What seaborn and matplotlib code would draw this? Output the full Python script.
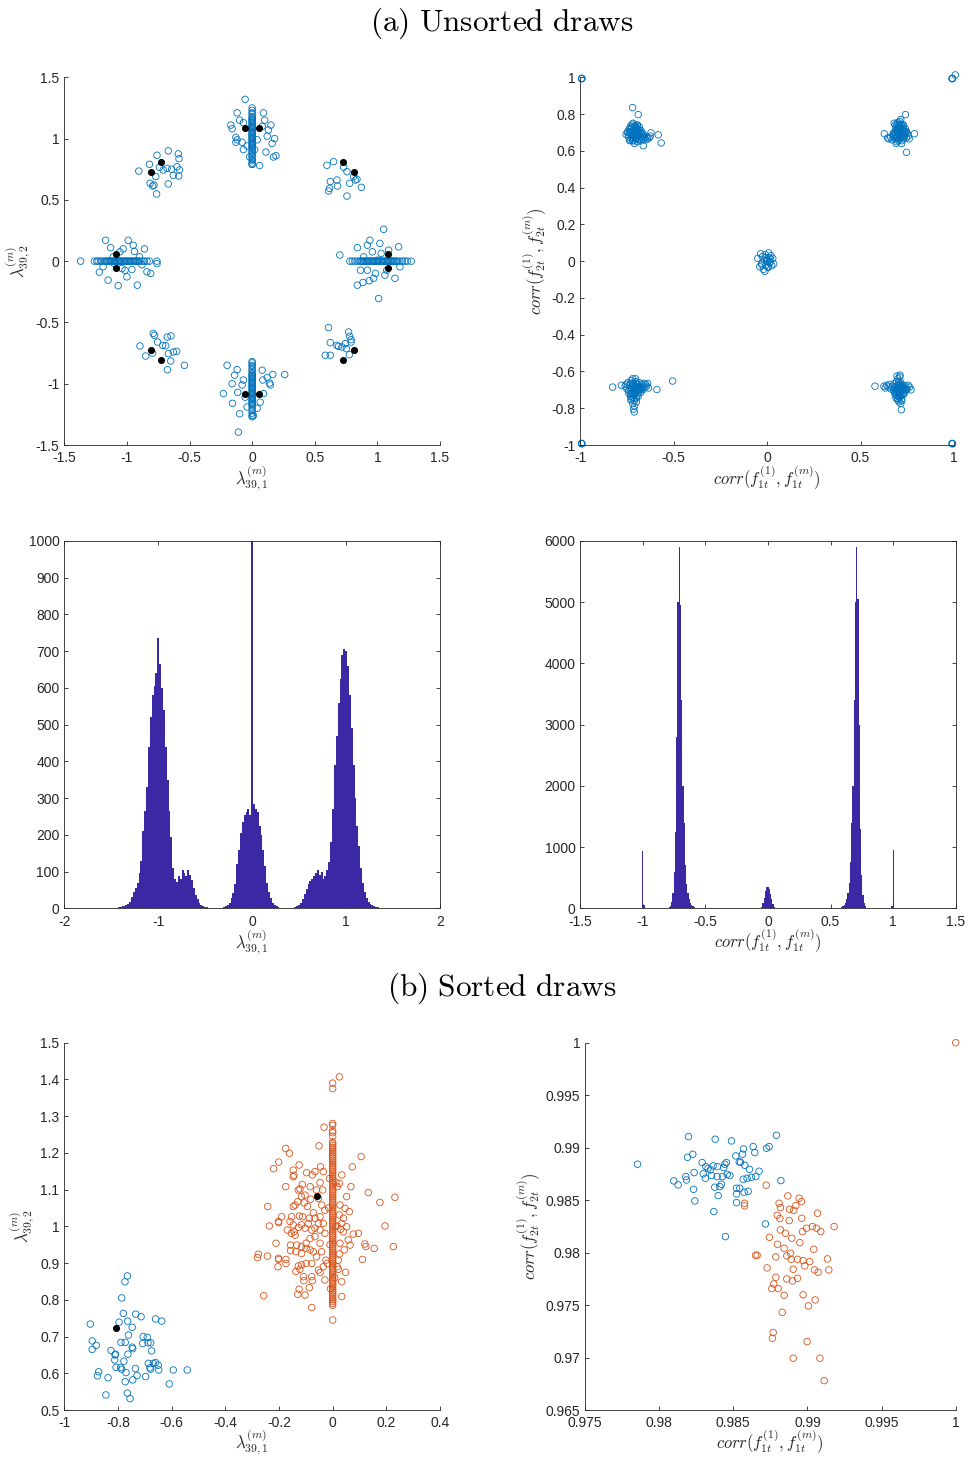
import numpy as np
import matplotlib
matplotlib.use("Agg")
import matplotlib.pyplot as plt
from matplotlib.ticker import FuncFormatter
import seaborn as sns

sns.set_theme(style="white")
plt.rcParams["font.family"] = ["Liberation Sans", "DejaVu Sans"]
plt.rcParams["mathtext.fontset"] = "cm"
plt.rcParams["axes.unicode_minus"] = False

BLUE = "#0072BD"
ORANGE = "#D95319"
HIST = "#3B28A4"
AXC = "#262626"

# ---------------- (a) top-left: unsorted lambda draws ----------------
top_pts = [(-0.056, 1.32), (-0.12, 1.21), (-0.17, 1.11), (-0.16, 1.08), (-0.07, 1.13),
           (-0.13, 1.01), (-0.13, 0.97), (-0.08, 0.97), (-0.04, 0.94), (-0.02, 0.85),
           (0.08, 1.10), (0.10, 1.15), (0.13, 1.07), (0.15, 1.11), (0.18, 1.00),
           (0.16, 0.96), (0.11, 0.89), (0.17, 0.85), (0.19, 0.86), (0.06, 0.78),
           (0.0, 0.79), (0.04, 0.99), (0.12, 1.02), (0.09, 1.21), (-0.10, 1.15),
           (-0.12, 0.99), (0.02, 0.91), (-0.07, 0.91)]
top_line_y = [0.79, 0.80, 0.82, 0.83, 0.85, 0.86, 0.88, 0.89, 0.90, 0.92, 0.93, 0.94, 0.95,
              0.96, 0.97, 0.98, 0.99, 1.00, 1.01, 1.02, 1.03, 1.04, 1.05, 1.06, 1.07, 1.08,
              1.09, 1.10, 1.11, 1.12, 1.13, 1.14, 1.15, 1.16, 1.17, 1.18, 1.20, 1.21, 1.23, 1.25]
bot_pts = [(-0.11, -1.395), (-0.20, -0.85), (-0.12, -0.885), (-0.14, -0.93), (-0.16, -1.0),
           (-0.23, -1.08), (-0.157, -1.16), (-0.115, -1.07), (-0.08, -1.01), (-0.07, -0.97),
           (0.08, -0.89), (0.12, -0.95), (0.165, -0.925), (0.26, -0.925), (0.14, -0.995),
           (0.145, -1.01), (0.09, -1.08), (0.064, -1.15), (0.04, -1.2), (-0.04, -1.19),
           (0.01, -1.26), (0.085, -0.97), (-0.056, -1.11), (-0.10, -1.245)]
bot_line_y = [-0.82, -0.83, -0.85, -0.86, -0.88, -0.89, -0.91, -0.92, -0.93, -0.94, -0.95,
              -0.96, -0.97, -0.98, -0.99, -1.00, -1.01, -1.02, -1.03, -1.04, -1.05, -1.06,
              -1.07, -1.08, -1.09, -1.10, -1.11, -1.12, -1.13, -1.14, -1.15, -1.16, -1.17,
              -1.18, -1.20, -1.22, -1.24, -1.26, -1.27]
left_pts = [(-1.17, 0.17), (-1.13, 0.11), (-1.22, -0.09), (-1.15, -0.155), (-1.07, -0.2),
            (-0.917, -0.196), (-0.99, 0.17), (-0.94, 0.08), (-0.86, 0.10), (-0.76, -0.02),
            (-0.81, -0.1), (-0.84, -0.087), (-1.0, -0.128), (-0.96, -0.068), (-1.04, -0.06),
            (-1.056, 0.076), (-1.03, 0.1), (-1.1, -0.02), (-0.95, 0.13), (-0.9, 0.035),
            (-1.015, -0.075), (-1.11, 0.035), (-1.19, -0.045), (-0.88, -0.03)]
left_line_x = [-1.37, -1.26, -1.24, -1.23, -1.21, -1.20, -1.18, -1.17, -1.16, -1.15, -1.14,
               -1.13, -1.12, -1.11, -1.10, -1.09, -1.08, -1.07, -1.06, -1.05, -1.04, -1.03,
               -1.02, -1.01, -1.00, -0.99, -0.98, -0.97, -0.96, -0.95, -0.94, -0.93, -0.92,
               -0.91, -0.90, -0.88, -0.86, -0.84, -0.82, -0.76]
right_pts = [(1.05, 0.26), (0.70, 0.05), (0.84, 0.11), (0.94, 0.17), (1.02, 0.145),
             (1.09, 0.09), (1.17, 0.117), (0.84, -0.196), (0.885, -0.174), (0.935, -0.16),
             (1.01, -0.305), (1.14, -0.14), (1.06, -0.114), (0.985, -0.1), (0.92, -0.074),
             (0.96, 0.076), (0.89, 0.035), (1.0, 0.008), (1.075, -0.074), (0.865, -0.074),
             (0.97, -0.14), (1.03, 0.063), (0.92, 0.13), (1.18, -0.046)]
right_line_x = [0.78, 0.80, 0.82, 0.84, 0.86, 0.87, 0.88, 0.89, 0.90, 0.91, 0.92, 0.93, 0.94,
                0.95, 0.96, 0.97, 0.98, 0.99, 1.00, 1.01, 1.02, 1.03, 1.04, 1.05, 1.06, 1.07,
                1.08, 1.09, 1.10, 1.11, 1.12, 1.13, 1.14, 1.15, 1.16, 1.18, 1.20, 1.22, 1.24, 1.27]
ul_pts = [(-0.905, 0.735), (-0.82, 0.79), (-0.76, 0.864), (-0.67, 0.90), (-0.59, 0.875),
          (-0.584, 0.836), (-0.60, 0.77), (-0.58, 0.744), (-0.586, 0.695), (-0.63, 0.70),
          (-0.67, 0.63), (-0.68, 0.757), (-0.74, 0.766), (-0.77, 0.69), (-0.815, 0.635),
          (-0.795, 0.613), (-0.784, 0.62), (-0.763, 0.548), (-0.643, 0.75), (-0.71, 0.744)]
ur_pts = [(0.597, 0.782), (0.65, 0.812), (0.73, 0.766), (0.757, 0.73), (0.624, 0.65),
          (0.618, 0.594), (0.61, 0.572), (0.677, 0.662), (0.682, 0.613), (0.757, 0.531),
          (0.779, 0.635), (0.824, 0.662), (0.837, 0.668), (0.872, 0.602), (0.81, 0.69)]
ll_pts = [(-0.896, -0.692), (-0.85, -0.774), (-0.79, -0.59), (-0.78, -0.605), (-0.755, -0.66),
          (-0.714, -0.687), (-0.69, -0.69), (-0.677, -0.619), (-0.648, -0.61), (-0.669, -0.755),
          (-0.629, -0.741), (-0.603, -0.736), (-0.541, -0.85), (-0.65, -0.815), (-0.677, -0.886),
          (-0.795, -0.75)]
lr_pts = [(0.61, -0.542), (0.624, -0.665), (0.677, -0.687), (0.69, -0.695), (0.77, -0.578),
          (0.778, -0.613), (0.79, -0.64), (0.79, -0.66), (0.744, -0.673), (0.752, -0.714),
          (0.776, -0.763), (0.584, -0.768), (0.624, -0.768), (0.717, -0.70)]
mode_pts = [(-0.058, 1.085), (0.058, 1.085), (-0.058, -1.085), (0.058, -1.085),
            (-1.085, 0.058), (-1.085, -0.058), (1.085, 0.058), (1.085, -0.058),
            (-0.81, 0.725), (-0.725, 0.81), (0.725, 0.81), (0.81, 0.725),
            (-0.81, -0.725), (-0.725, -0.81), (0.725, -0.81), (0.81, -0.725)]

# ---------------- (a) top-right: unsorted correlations ----------------
cul_x = [-0.755, -0.748, -0.742, -0.738, -0.733, -0.73, -0.726, -0.722, -0.72, -0.717,
         -0.714, -0.712, -0.71, -0.708, -0.705, -0.703, -0.70, -0.698, -0.695, -0.692,
         -0.69, -0.687, -0.684, -0.68, -0.676, -0.672, -0.668, -0.664, -0.66, -0.655,
         -0.65, -0.645, -0.64, -0.632, -0.625, -0.718, -0.706, -0.694, -0.728, -0.70,
         -0.72, -0.69, -0.583, -0.567, -0.663, -0.622,
         -0.735, -0.725, -0.715, -0.705, -0.695, -0.685, -0.675, -0.665, -0.74, -0.73,
         -0.72, -0.71, -0.70, -0.69, -0.68, -0.67, -0.725, -0.715, -0.705, -0.695,
         -0.685, -0.745, -0.735, -0.70, -0.71]
cul_y = [0.69, 0.70, 0.675, 0.72, 0.66, 0.735, 0.69, 0.745, 0.655, 0.71,
         0.68, 0.725, 0.64, 0.70, 0.735, 0.665, 0.69, 0.715, 0.65, 0.68,
         0.705, 0.66, 0.73, 0.675, 0.695, 0.655, 0.685, 0.665, 0.68, 0.67,
         0.66, 0.675, 0.665, 0.67, 0.68, 0.75, 0.72, 0.74, 0.70, 0.67,
         0.835, 0.797, 0.687, 0.643, 0.628, 0.698,
         0.70, 0.675, 0.70, 0.68, 0.725, 0.69, 0.71, 0.695, 0.685, 0.715,
         0.67, 0.695, 0.72, 0.665, 0.70, 0.675, 0.73, 0.655, 0.665, 0.74,
         0.715, 0.705, 0.655, 0.685, 0.735]
cur_x = [0.645, 0.652, 0.66, 0.668, 0.675, 0.68, 0.685, 0.688, 0.69, 0.693,
         0.695, 0.697, 0.70, 0.702, 0.704, 0.706, 0.708, 0.71, 0.712, 0.715,
         0.717, 0.72, 0.722, 0.725, 0.728, 0.73, 0.733, 0.736, 0.74, 0.745,
         0.75, 0.755, 0.76, 0.70, 0.71, 0.69, 0.72, 0.705, 0.627, 0.74,
         0.746, 0.788, 0.715, 0.68,
         0.685, 0.695, 0.705, 0.715, 0.725, 0.735, 0.68, 0.69, 0.70, 0.71,
         0.72, 0.73, 0.74, 0.695, 0.705, 0.715, 0.725, 0.685, 0.70, 0.71,
         0.72, 0.69, 0.73, 0.675, 0.745]
cur_y = [0.67, 0.665, 0.675, 0.66, 0.68, 0.70, 0.665, 0.72, 0.69, 0.65,
         0.735, 0.675, 0.70, 0.655, 0.715, 0.685, 0.745, 0.665, 0.70, 0.725,
         0.68, 0.71, 0.655, 0.74, 0.69, 0.665, 0.705, 0.68, 0.72, 0.67,
         0.695, 0.68, 0.665, 0.755, 0.76, 0.64, 0.64, 0.73, 0.693, 0.797,
         0.592, 0.693, 0.77, 0.75,
         0.70, 0.68, 0.725, 0.69, 0.705, 0.695, 0.685, 0.71, 0.675, 0.73,
         0.695, 0.72, 0.70, 0.745, 0.66, 0.745, 0.675, 0.74, 0.715, 0.685,
         0.735, 0.675, 0.74, 0.695, 0.705]
cll_x = [-0.76, -0.755, -0.75, -0.745, -0.74, -0.735, -0.73, -0.727, -0.724, -0.72,
         -0.717, -0.714, -0.711, -0.708, -0.705, -0.702, -0.70, -0.697, -0.694, -0.69,
         -0.686, -0.682, -0.678, -0.674, -0.67, -0.665, -0.66, -0.655, -0.65, -0.645,
         -0.64, -0.635, -0.72, -0.71, -0.73, -0.715, -0.70, -0.725, -0.712, -0.705,
         -0.827, -0.78, -0.506, -0.711, -0.59, -0.72,
         -0.735, -0.725, -0.715, -0.705, -0.695, -0.685, -0.675, -0.665, -0.73, -0.72,
         -0.71, -0.70, -0.69, -0.68, -0.725, -0.715, -0.705, -0.695, -0.72, -0.71,
         -0.70, -0.74, -0.69, -0.68, -0.73]
cll_y = [-0.68, -0.67, -0.695, -0.66, -0.705, -0.675, -0.72, -0.65, -0.69, -0.74,
         -0.665, -0.705, -0.76, -0.68, -0.715, -0.655, -0.695, -0.73, -0.67, -0.70,
         -0.66, -0.685, -0.715, -0.67, -0.695, -0.68, -0.665, -0.685, -0.67, -0.68,
         -0.665, -0.69, -0.775, -0.79, -0.755, -0.805, -0.765, -0.72, -0.745, -0.64,
         -0.685, -0.675, -0.652, -0.82, -0.698, -0.64,
         -0.69, -0.70, -0.675, -0.72, -0.685, -0.70, -0.69, -0.70, -0.735, -0.715,
         -0.695, -0.745, -0.715, -0.685, -0.75, -0.73, -0.685, -0.705, -0.665, -0.72,
         -0.67, -0.72, -0.735, -0.70, -0.665]
clr_x = [0.625, 0.632, 0.64, 0.648, 0.655, 0.662, 0.67, 0.676, 0.68, 0.685,
         0.688, 0.69, 0.693, 0.696, 0.698, 0.70, 0.702, 0.704, 0.706, 0.708,
         0.71, 0.712, 0.715, 0.718, 0.72, 0.723, 0.726, 0.73, 0.734, 0.738,
         0.742, 0.748, 0.755, 0.762, 0.70, 0.71, 0.705, 0.715, 0.695, 0.72,
         0.577, 0.718, 0.711, 0.77,
         0.68, 0.69, 0.70, 0.71, 0.72, 0.73, 0.685, 0.695, 0.705, 0.715,
         0.725, 0.735, 0.69, 0.70, 0.71, 0.72, 0.70, 0.71, 0.695, 0.705,
         0.715, 0.725, 0.68, 0.73, 0.745]
clr_y = [-0.68, -0.69, -0.675, -0.685, -0.67, -0.695, -0.68, -0.70, -0.665, -0.715,
         -0.685, -0.73, -0.655, -0.70, -0.745, -0.675, -0.715, -0.66, -0.69, -0.735,
         -0.705, -0.67, -0.72, -0.685, -0.75, -0.70, -0.675, -0.715, -0.69, -0.70,
         -0.68, -0.695, -0.675, -0.685, -0.64, -0.63, -0.765, -0.775, -0.625, -0.76,
         -0.68, -0.808, -0.62, -0.70,
         -0.69, -0.70, -0.685, -0.695, -0.705, -0.69, -0.725, -0.715, -0.73, -0.68,
         -0.69, -0.715, -0.745, -0.755, -0.74, -0.73, -0.705, -0.72, -0.685, -0.70,
         -0.66, -0.675, -0.71, -0.725, -0.70]
cmid_x = [-0.05, -0.04, -0.035, -0.03, -0.025, -0.02, -0.015, -0.01, -0.005, 0.0,
          0.005, 0.01, 0.015, 0.02, 0.025, 0.03, 0.035, -0.012, 0.008, -0.002,
          0.018, -0.028, 0.012, -0.006, 0.003]
cmid_y = [0.015, -0.03, 0.04, -0.01, 0.025, -0.045, 0.005, 0.035, -0.02, 0.01,
          -0.035, 0.02, -0.005, 0.03, -0.025, 0.015, -0.015, -0.055, 0.045, 0.0,
          0.01, -0.02, -0.01, 0.02, -0.03]
corner_x = [-0.993, -0.993, -0.991, -0.993, -0.993, -0.991, 0.99, 0.99, 0.992, 1.007, 0.99, 0.99, 0.992]
corner_y = [0.994, 0.992, 0.994, -0.993, -0.991, -0.993, 0.994, 0.992, 0.994, 1.013, -0.993, -0.991, -0.993]

# ---------------- (a) histograms ----------------
# lambda_39,1 counts, bins of 0.02 centred on -1.50 ... 1.50
lam_counts = [1, 1, 2, 2, 3, 4, 5, 7, 9, 12,
              18, 30, 45, 55, 70, 95, 130, 210, 265, 330,
              440, 520, 580, 605, 640, 735, 665, 600, 540, 440,
              350, 265, 195, 110, 80, 72, 88, 80, 105, 95,
              88, 105, 90, 78, 55, 35, 25, 15, 10, 6,
              4, 3, 2, 2, 1, 1, 1, 1, 2, 2,
              3, 5, 10, 15, 28, 42, 65, 120, 160, 205,
              235, 255, 262, 270, 255, 2600, 285, 270, 262, 225,
              200, 160, 115, 70, 45, 28, 15, 8, 5, 3,
              2, 1, 1, 1, 1, 1, 2, 2, 3, 5,
              9, 14, 25, 38, 52, 65, 75, 80, 88, 95,
              105, 92, 100, 80, 88, 105, 125, 180, 270, 390,
              470, 560, 625, 690, 705, 700, 660, 580, 490, 390,
              300, 225, 170, 110, 70, 45, 28, 18, 12, 8,
              6, 4, 3, 2, 2, 2, 1, 1, 1, 1,
              1]
# correlation counts, bins of 0.01; each segment with its first bin centre
corr_segments = [
    (-1.00, [940, 50]),
    (-0.80, [8, 15, 40, 100, 250, 600, 1250, 2800, 5000, 5900, 4950, 3400,
             2000, 1400, 700, 400, 250, 150, 90, 50, 30, 15, 8, 4]),
    (-0.06, [8, 25, 80, 170, 290, 340, 355, 320, 240, 150, 70, 25, 8]),
    (0.57, [4, 8, 15, 30, 50, 90, 150, 250, 420, 750, 1400, 2000,
            3400, 5000, 5900, 5050, 3000, 1300, 550, 220, 90, 35, 12, 5]),
    (0.99, [40, 950]),
]

# ---------------- (b) sorted draws ----------------
sorted_blue = [(-0.903, 0.734), (-0.896, 0.688), (-0.896, 0.665), (-0.881, 0.676), (-0.872, 0.604),
               (-0.876, 0.593), (-0.845, 0.541), (-0.837, 0.588), (-0.826, 0.662), (-0.811, 0.650),
               (-0.809, 0.652), (-0.812, 0.636), (-0.807, 0.616), (-0.796, 0.739), (-0.789, 0.684),
               (-0.786, 0.805), (-0.790, 0.616), (-0.786, 0.611), (-0.780, 0.763), (-0.778, 0.633),
               (-0.773, 0.684), (-0.773, 0.577), (-0.770, 0.602), (-0.774, 0.849), (-0.765, 0.865),
               (-0.764, 0.742), (-0.761, 0.704), (-0.763, 0.652), (-0.765, 0.546), (-0.755, 0.531),
               (-0.747, 0.725), (-0.747, 0.671), (-0.745, 0.667), (-0.745, 0.582), (-0.735, 0.613),
               (-0.734, 0.761), (-0.729, 0.594), (-0.714, 0.754), (-0.706, 0.700), (-0.708, 0.681),
               (-0.697, 0.591), (-0.691, 0.698), (-0.688, 0.683), (-0.687, 0.627), (-0.678, 0.683),
               (-0.678, 0.611), (-0.675, 0.661), (-0.681, 0.615), (-0.668, 0.627), (-0.660, 0.748),
               (-0.660, 0.629), (-0.650, 0.622), (-0.648, 0.609), (-0.637, 0.742), (-0.609, 0.571),
               (-0.594, 0.609), (-0.542, 0.609)]
sorted_orange = [(-0.22, 1.157), (-0.201, 1.175), (-0.175, 1.212), (-0.161, 1.199), (-0.242, 1.054),
                 (-0.236, 1.001), (-0.202, 1.013), (-0.201, 1.010), (-0.19, 1.026), (-0.211, 0.954),
                 (-0.277, 0.924), (-0.280, 0.915), (-0.243, 0.919), (-0.202, 0.913), (-0.201, 0.910),
                 (-0.204, 0.890), (-0.174, 0.910), (-0.174, 0.899), (-0.257, 0.811), (-0.175, 1.108),
                 (-0.147, 1.153), (-0.144, 1.139), (-0.147, 1.135), (-0.125, 1.167), (-0.097, 1.146),
                 (-0.076, 1.140), (-0.066, 1.149), (-0.051, 1.219), (-0.045, 1.162), (-0.032, 1.270),
                 (-0.035, 1.149), (-0.113, 1.114), (-0.128, 1.099), (-0.122, 1.102), (-0.116, 1.081),
                 (-0.130, 1.067), (-0.140, 1.058), (-0.147, 1.054), (-0.103, 1.085), (-0.106, 1.064),
                 (-0.094, 1.054), (-0.084, 1.108), (-0.082, 1.074), (-0.072, 1.037), (-0.060, 1.099),
                 (-0.047, 1.119), (-0.053, 1.076), (-0.037, 1.099), (-0.041, 1.058), (-0.029, 1.044),
                 (-0.047, 1.026), (-0.066, 1.022), (-0.087, 1.022), (-0.112, 1.026), (-0.124, 1.028),
                 (-0.153, 1.026), (-0.159, 1.013), (-0.147, 1.004), (-0.169, 0.990), (-0.154, 0.981),
                 (-0.143, 0.985), (-0.140, 0.976), (-0.128, 0.997), (-0.116, 1.004), (-0.103, 0.995),
                 (-0.091, 1.008), (-0.078, 0.990), (-0.066, 0.995), (-0.053, 1.008), (-0.047, 0.990),
                 (-0.035, 1.008), (-0.029, 0.981), (-0.066, 0.972), (-0.084, 0.967), (-0.099, 0.954),
                 (-0.116, 0.945), (-0.134, 0.949), (-0.157, 0.949), (-0.157, 0.934), (-0.137, 0.931),
                 (-0.116, 0.926), (-0.099, 0.940), (-0.084, 0.936), (-0.072, 0.931), (-0.060, 0.917),
                 (-0.047, 0.954), (-0.041, 0.931), (-0.025, 0.908), (-0.035, 0.890), (-0.053, 0.881),
                 (-0.047, 0.874), (-0.078, 0.899), (-0.099, 0.899), (-0.116, 0.895), (-0.128, 0.892),
                 (-0.122, 0.883), (-0.137, 0.877), (-0.109, 0.863), (-0.078, 0.863), (-0.076, 0.852),
                 (-0.107, 0.852), (-0.125, 0.829), (-0.130, 0.815), (-0.103, 0.813), (-0.087, 0.833),
                 (-0.078, 0.779), (-0.029, 0.854), (-0.020, 0.899), (0.017, 1.108), (0.025, 1.117),
                 (0.034, 1.140), (0.073, 1.162), (0.106, 1.190), (0.068, 1.108), (0.133, 1.092),
                 (0.176, 1.065), (0.232, 1.079), (0.052, 1.081), (0.027, 1.058), (0.046, 1.049),
                 (0.062, 1.040), (0.025, 1.031), (0.040, 1.022), (0.034, 1.008), (0.017, 1.001),
                 (0.030, 0.992), (0.052, 0.999), (0.040, 0.985), (0.077, 0.979), (0.096, 0.981),
                 (0.058, 0.963), (0.065, 0.949), (0.027, 0.954), (0.043, 0.936), (0.025, 0.925),
                 (0.120, 0.952), (0.124, 0.945), (0.155, 0.940), (0.195, 1.001), (0.226, 0.945),
                 (0.111, 0.910), (0.021, 0.908), (0.021, 0.883), (0.048, 0.875), (0.034, 0.849),
                 (0.034, 0.809), (0.017, 0.890), (-0.015, 1.05), (-0.010, 0.95), (0.010, 1.00),
                 (0.012, 1.12), (-0.012, 1.13), (0.008, 0.86), (-0.008, 0.83), (0.025, 1.407)]
sorted_line_y = [0.745, 0.785, 0.79, 0.80, 0.81, 0.82, 0.83, 0.84, 0.85, 0.86, 0.87, 0.88,
                 0.89, 0.90, 0.91, 0.92, 0.93, 0.94, 0.95, 0.96, 0.97, 0.98, 0.99, 1.00,
                 1.01, 1.02, 1.03, 1.04, 1.05, 1.06, 1.07, 1.08, 1.09, 1.10, 1.11, 1.12,
                 1.13, 1.14, 1.15, 1.16, 1.17, 1.18, 1.19, 1.20, 1.21, 1.22, 1.23, 1.245,
                 1.255, 1.26, 1.275, 1.28, 1.375, 1.39,
                 0.795, 0.805, 0.815, 0.825, 0.835, 0.845, 0.855, 0.865, 0.875, 0.885,
                 0.895, 0.905, 0.915, 0.925, 0.935, 0.945, 0.955, 0.965, 0.975, 0.985,
                 0.995, 1.005, 1.015, 1.025, 1.035, 1.045, 1.055, 1.065, 1.075, 1.085,
                 1.095, 1.105, 1.115, 1.125, 1.135, 1.145, 1.155, 1.165, 1.175, 1.185,
                 1.195, 1.205, 1.215, 1.225]
sorted_modes = [(-0.809, 0.724), (-0.060, 1.083)]

corr_blue = [(0.97854, 0.98842), (0.98099, 0.98683), (0.98128, 0.98645), (0.98180, 0.98724),
             (0.98184, 0.98692), (0.98191, 0.98908), (0.98198, 0.99105), (0.98227, 0.98937),
             (0.98236, 0.98762), (0.98232, 0.98603), (0.98241, 0.98492), (0.98290, 0.98858),
             (0.98297, 0.98750), (0.98315, 0.98819), (0.98312, 0.98708), (0.98330, 0.98804),
             (0.98346, 0.98788), (0.98353, 0.98734), (0.98364, 0.98826), (0.98369, 0.98391),
             (0.98378, 0.99080), (0.98375, 0.98623), (0.98393, 0.98819), (0.98391, 0.98724),
             (0.98398, 0.98543), (0.98409, 0.98629), (0.98420, 0.98651), (0.98427, 0.98724),
             (0.98436, 0.98810), (0.98443, 0.98842), (0.98447, 0.98152), (0.98454, 0.98858),
             (0.98459, 0.98746), (0.98477, 0.98734), (0.98488, 0.99064), (0.98517, 0.98921),
             (0.98522, 0.98613), (0.98522, 0.98559), (0.98522, 0.98476), (0.98540, 0.98864),
             (0.98544, 0.98613), (0.98549, 0.98861), (0.98562, 0.98937), (0.98569, 0.98988),
             (0.98567, 0.98699), (0.98573, 0.98575), (0.98578, 0.98832), (0.98593, 0.98708),
             (0.98600, 0.98584), (0.98609, 0.98794), (0.98623, 0.98718), (0.98634, 0.99010),
             (0.98645, 0.98953), (0.98652, 0.98724), (0.98674, 0.98775), (0.98724, 0.98994),
             (0.98742, 0.99010), (0.98717, 0.98273), (0.98791, 0.99118), (0.98821, 0.98686)]
corr_orange = [(0.98576, 0.98470), (0.98576, 0.98445), (0.98722, 0.98642), (0.98744, 0.98146),
               (0.98728, 0.97854), (0.98650, 0.97975), (0.98661, 0.97975), (0.98760, 0.97657),
               (0.98773, 0.97701), (0.98769, 0.97238), (0.98764, 0.97184), (0.98787, 0.97765),
               (0.98787, 0.97959), (0.98796, 0.98356), (0.98803, 0.97657), (0.98809, 0.98470),
               (0.98814, 0.98324), (0.98818, 0.98429), (0.98818, 0.98216), (0.98798, 0.98079),
               (0.98830, 0.97431), (0.98843, 0.98041), (0.98843, 0.97593), (0.98852, 0.98184),
               (0.98861, 0.97968), (0.98861, 0.97749), (0.98868, 0.98540), (0.98877, 0.98305),
               (0.98879, 0.98413), (0.98886, 0.97994), (0.98890, 0.97936), (0.98895, 0.98137),
               (0.98899, 0.97730), (0.98904, 0.97841), (0.98904, 0.96993), (0.98908, 0.98403),
               (0.98922, 0.98448), (0.98933, 0.97936), (0.98933, 0.97755), (0.98944, 0.98518),
               (0.98949, 0.98095), (0.98960, 0.98486), (0.98962, 0.98327), (0.98967, 0.98200),
               (0.98971, 0.97924), (0.98971, 0.97597), (0.98982, 0.97873), (0.98994, 0.98232),
               (0.98998, 0.97152), (0.99007, 0.97492), (0.99016, 0.97914), (0.99034, 0.98248),
               (0.99043, 0.98032), (0.99048, 0.97835), (0.99052, 0.97549), (0.99061, 0.98232),
               (0.99068, 0.98375), (0.99072, 0.97813), (0.99084, 0.96993), (0.99090, 0.98200),
               (0.99113, 0.96780), (0.99135, 0.97940), (0.99144, 0.97835), (0.99180, 0.98248),
               (1.0, 1.0)]

LAM1 = r"$\lambda^{(m)}_{39,1}$"
LAM2 = r"$\lambda^{(m)}_{39,2}$"
CORR1 = r"$corr(f^{(1)}_{1t},f^{(m)}_{1t})$"
CORR2 = r"$corr(f^{(1)}_{2t},f^{(m)}_{2t})$"

fmt = FuncFormatter(lambda v, p: "%g" % (round(v, 6) + 0.0))


def style_axes(ax, box=False):
    ax.set_facecolor("white")
    for side in ["top", "right"]:
        ax.spines[side].set_visible(box)
    for sp in ax.spines.values():
        sp.set_color(AXC)
        sp.set_linewidth(0.6)
    ax.tick_params(direction="in", length=3, width=0.6, color=AXC, labelcolor=AXC,
                   labelsize=10, top=box, right=box, bottom=True, left=True,
                   labeltop=False, labelright=False)
    ax.tick_params(axis="x", pad=4.5)
    ax.tick_params(axis="y", pad=3.5)
    ax.xaxis.set_major_formatter(fmt)
    ax.yaxis.set_major_formatter(fmt)
    ax.grid(False)


def rings(ax, pts=None, x=None, y=None, color=BLUE):
    if pts is not None:
        x = [p[0] for p in pts]
        y = [p[1] for p in pts]
    sns.scatterplot(x=x, y=y, ax=ax, marker="o", s=22, facecolor="none",
                    edgecolor=color, linewidth=0.6, legend=False, clip_on=False)


def dots(ax, pts):
    sns.scatterplot(x=[p[0] for p in pts], y=[p[1] for p in pts], ax=ax, marker="o",
                    s=26, color="black", edgecolor="black", linewidth=0, legend=False,
                    zorder=5, clip_on=False)


fig = plt.figure(figsize=(9.68, 14.57), dpi=100)
W, H = 968.0, 1457.0


def add_ax(x0, x1, y0, y1):
    return fig.add_axes([x0 / W, 1 - y1 / H, (x1 - x0) / W, (y1 - y0) / H])


# (a) top-left
ax = add_ax(64.3, 440, 77.3, 445)
style_axes(ax)
for pts in [top_pts, bot_pts, left_pts, right_pts, ul_pts, ur_pts, ll_pts, lr_pts]:
    rings(ax, pts)
rings(ax, x=[0.0] * len(top_line_y), y=top_line_y)
rings(ax, x=[0.0] * len(bot_line_y), y=bot_line_y)
rings(ax, x=left_line_x, y=[0.0] * len(left_line_x))
rings(ax, x=right_line_x, y=[0.0] * len(right_line_x))
dots(ax, mode_pts)
ax.set_xlim(-1.5, 1.5)
ax.set_ylim(-1.5, 1.5)
ax.set_xticks(np.arange(-1.5, 1.51, 0.5))
ax.set_yticks(np.arange(-1.5, 1.51, 0.5))
ax.set_xlabel(LAM1, fontsize=12, labelpad=-1)
ax.set_ylabel(LAM2, fontsize=12, labelpad=2)

# (a) top-right
ax = add_ax(580.3, 954, 77.3, 445)
style_axes(ax)
for cx, cy in [(cul_x, cul_y), (cur_x, cur_y), (cll_x, cll_y), (clr_x, clr_y),
               (cmid_x, cmid_y), (corner_x, corner_y)]:
    rings(ax, x=cx, y=cy)
ax.set_xlim(-1, 1)
ax.set_ylim(-1, 1)
ax.set_xticks(np.arange(-1, 1.01, 0.5))
ax.set_yticks(np.arange(-1, 1.01, 0.2))
ax.set_xlabel(CORR1, fontsize=12, labelpad=-1)
ax.set_ylabel(CORR2, fontsize=12, labelpad=2)

# (a) mid-left histogram
ax = add_ax(64.3, 440, 541, 908.3)
style_axes(ax, box=True)
lam_centers = np.round(-1.5 + 0.02 * np.arange(len(lam_counts)), 2)
lam_edges = [round(-1.51 + 0.02 * i, 3) for i in range(len(lam_counts) + 1)]
sns.histplot(x=lam_centers, weights=lam_counts, bins=lam_edges, ax=ax, color=HIST,
             alpha=1, linewidth=0, element="bars")
ax.set_xlim(-2, 2)
ax.set_ylim(0, 1000)
ax.set_xticks(np.arange(-2, 2.01, 1))
ax.set_yticks(np.arange(0, 1001, 100))
ax.set_xlabel(LAM1, fontsize=12, labelpad=-1)
ax.set_ylabel("")

# (a) mid-right histogram
ax = add_ax(580.3, 955.7, 541, 908.3)
style_axes(ax, box=True)
corr_centers = np.concatenate([np.round(s + 0.01 * np.arange(len(c)), 2) for s, c in corr_segments])
corr_counts = np.concatenate([c for s, c in corr_segments])
corr_edges = [round(-1.005 + 0.01 * i, 3) for i in range(202)]
sns.histplot(x=corr_centers, weights=corr_counts, bins=corr_edges, ax=ax, color=HIST,
             alpha=1, linewidth=0, element="bars")
ax.set_xlim(-1.5, 1.5)
ax.set_ylim(0, 6000)
ax.set_xticks(np.arange(-1.5, 1.51, 0.5))
ax.set_yticks(np.arange(0, 6001, 1000))
ax.set_xlabel(CORR1, fontsize=12, labelpad=-1)
ax.set_ylabel("")

# (b) bottom-left
ax = add_ax(64.3, 440, 1042.7, 1410)
style_axes(ax)
rings(ax, sorted_blue, color=BLUE)
rings(ax, sorted_orange, color=ORANGE)
rings(ax, x=[0.0] * len(sorted_line_y), y=sorted_line_y, color=ORANGE)
dots(ax, sorted_modes)
ax.set_xlim(-1, 0.4)
ax.set_ylim(0.5, 1.5)
ax.set_xticks(np.arange(-1, 0.41, 0.2))
ax.set_yticks(np.arange(0.5, 1.51, 0.1))
ax.set_xlabel(LAM1, fontsize=12, labelpad=-2)
ax.set_ylabel(LAM2, fontsize=12, labelpad=2)

# (b) bottom-right
ax = add_ax(585, 955.7, 1042.7, 1410)
style_axes(ax)
rings(ax, corr_blue, color=BLUE)
rings(ax, corr_orange, color=ORANGE)
ax.set_xlim(0.975, 1.0)
ax.set_ylim(0.965, 1.0)
ax.set_xticks(np.arange(0.975, 1.0001, 0.005))
ax.set_yticks(np.arange(0.965, 1.0001, 0.005))
ax.set_xlabel(CORR1, fontsize=12, labelpad=-2)
ax.set_ylabel(CORR2, fontsize=12, labelpad=2)

fig.text(502 / W, 1 - 23 / H, r"$\mathrm{(a)\ Unsorted\ draws}$", ha="center", va="center",
         fontsize=22.5, color="black")
fig.text(502 / W, 1 - 988 / H, r"$\mathrm{(b)\ Sorted\ draws}$", ha="center", va="center",
         fontsize=22.5, color="black")

fig.savefig("out.png", dpi=100, facecolor="white")
